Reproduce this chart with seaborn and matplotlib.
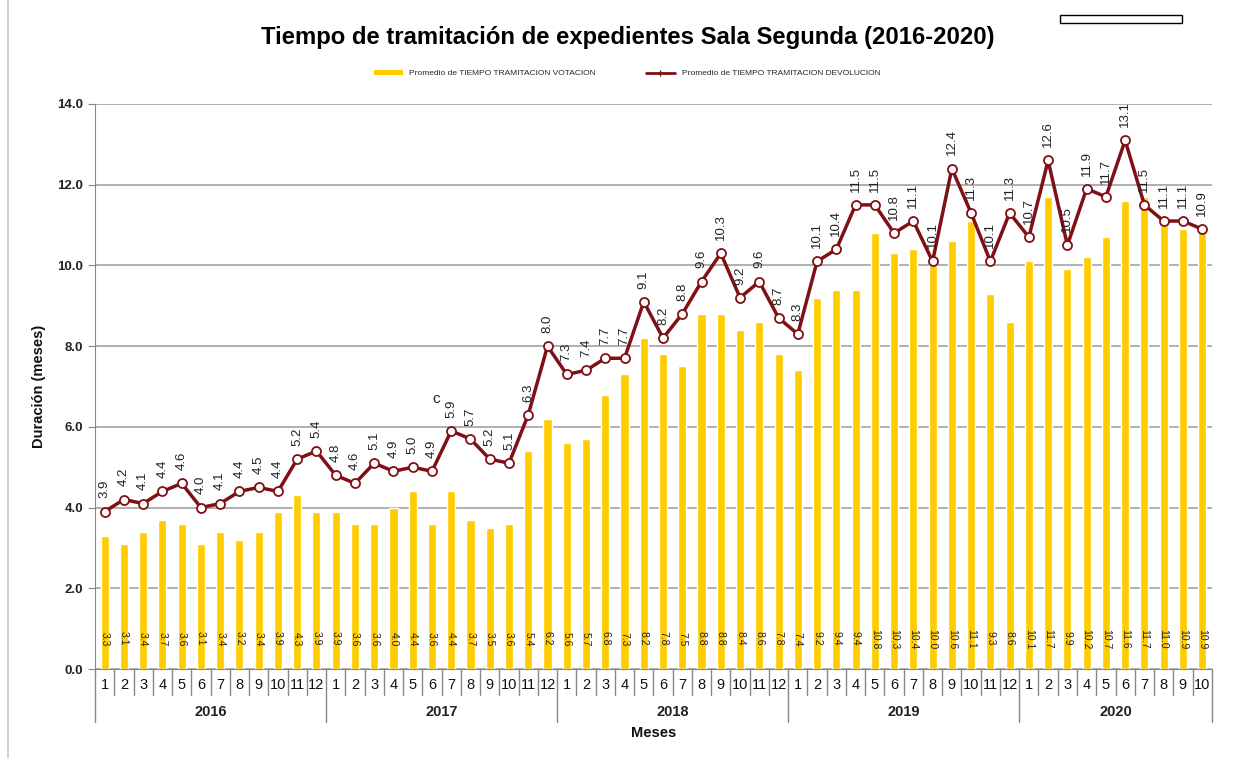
import numpy as np
import pandas as pd
import matplotlib.pyplot as plt
import seaborn as sns
from matplotlib.patches import Rectangle
from matplotlib.lines import Line2D
from matplotlib.patches import Patch

years = ['2016', '2017', '2018', '2019', '2020']
months_per_year = [12, 12, 12, 12, 10]

# Promedio de TIEMPO TRAMITACION VOTACION (barras)
votacion = [3.3, 3.1, 3.4, 3.7, 3.6, 3.1, 3.4, 3.2, 3.4, 3.9, 4.3, 3.9,
            3.9, 3.6, 3.6, 4.0, 4.4, 3.6, 4.4, 3.7, 3.5, 3.6, 5.4, 6.2,
            5.6, 5.7, 6.8, 7.3, 8.2, 7.8, 7.5, 8.8, 8.8, 8.4, 8.6, 7.8,
            7.4, 9.2, 9.4, 9.4, 10.8, 10.3, 10.4, 10.0, 10.6, 11.1, 9.3, 8.6,
            10.1, 11.7, 9.9, 10.2, 10.7, 11.6, 11.7, 11.0, 10.9, 10.9]

# Promedio de TIEMPO TRAMITACION DEVOLUCION (linea)
devolucion = [3.9, 4.2, 4.1, 4.4, 4.6, 4.0, 4.1, 4.4, 4.5, 4.4, 5.2, 5.4,
              4.8, 4.6, 5.1, 4.9, 5.0, 4.9, 5.9, 5.7, 5.2, 5.1, 6.3, 8.0,
              7.3, 7.4, 7.7, 7.7, 9.1, 8.2, 8.8, 9.6, 10.3, 9.2, 9.6, 8.7,
              8.3, 10.1, 10.4, 11.5, 11.5, 10.8, 11.1, 10.1, 12.4, 11.3, 10.1, 11.3,
              10.7, 12.6, 10.5, 11.9, 11.7, 13.1, 11.5, 11.1, 11.1, 10.9]

month_labels = [str(m) for n in months_per_year for m in range(1, n + 1)]
year_of = [y for y, n in zip(years, months_per_year) for _ in range(n)]

df = pd.DataFrame({'pos': np.arange(len(votacion)), 'mes': month_labels,
                   'anio': year_of, 'votacion': votacion, 'devolucion': devolucion})

sns.set_style('white')
plt.rcParams['font.family'] = ['Liberation Sans', 'DejaVu Sans']

bar_color = '#FFCC00'
line_color = '#7F1016'
grid_color = '#9a9a9a'

fig = plt.figure(figsize=(12.34, 7.58), dpi=100)
ax = fig.add_axes([0.077, 0.1174, 0.905, 0.7454])

ax.set_ylim(0, 14)
ax.set_xlim(-0.5, len(df) - 0.5)
ax.set_yticks(np.arange(0, 14.1, 2))
ax.yaxis.grid(True, color=grid_color, linewidth=1.1)
ax.set_axisbelow(True)

sns.barplot(data=df, x='pos', y='votacion', native_scale=True, color=bar_color,
            width=0.42, saturation=1, ax=ax, zorder=2)
sns.lineplot(data=df, x='pos', y='devolucion', color=line_color, linewidth=2.5,
             marker='o', markersize=6.5, markerfacecolor='white',
             markeredgecolor=line_color, markeredgewidth=1.3, ax=ax, zorder=3)

# etiquetas de valores
for i, v in enumerate(votacion):
    ax.text(i, 0.75, f'{v:.1f}', rotation=-90, ha='center', va='center',
            fontsize=7.5, color='#222222', zorder=4)
for i, v in enumerate(devolucion):
    ax.annotate(f'{v:.1f}', (i, v), xytext=(0, 9.5), textcoords='offset points',
                rotation=90, ha='center', va='bottom', fontsize=9.5,
                color='#222222', zorder=4)
ax.text(17.2, 6.7, 'c', ha='center', va='center', fontsize=11, color='#222222')

# ejes
ax.set_xticks([])
ax.set_xlabel('')
ax.set_ylabel('Duración (meses)', fontsize=10.5, fontweight='bold', labelpad=8,
              color='#111111')
ax.yaxis.set_major_formatter(plt.FuncFormatter(lambda v, p: f'{v:.1f}'))
ax.tick_params(axis='y', labelsize=9.5, length=5, color='#888888', left=True,
               labelcolor='#222222')
for lab in ax.get_yticklabels():
    lab.set_fontweight('bold')
for s in ['top', 'right']:
    ax.spines[s].set_visible(False)
ax.spines['left'].set_color('#888888')
ax.spines['bottom'].set_color('#888888')

# eje x jerarquico: meses y años
tr = ax.get_xaxis_transform()
for i, m in enumerate(month_labels):
    ax.text(i, -0.028, m, transform=tr, ha='center', va='center', fontsize=10.5,
            color='#111111')
bounds = np.cumsum([0] + months_per_year) - 0.5
for i in range(len(df) + 1):
    x = i - 0.5
    low = -0.094 if x in bounds else -0.046
    ax.plot([x, x], [0, low], transform=tr, color='#888888', linewidth=1,
            clip_on=False)
for y, a, b in zip(years, bounds[:-1], bounds[1:]):
    ax.text((a + b) / 2, -0.076, y, transform=tr, ha='center', va='center',
            fontsize=10.5, fontweight='bold', color='#222222')
ax.text(0.5, -0.113, 'Meses', transform=ax.transAxes, ha='center', va='center',
        fontsize=10.5, fontweight='bold', color='#111111')

# titulo y leyenda
fig.text(0.509, 0.951, 'Tiempo de tramitación de expedientes Sala Segunda (2016-2020)',
         ha='center', va='center', fontsize=17.2, fontweight='bold', color='black')
handles = [Patch(facecolor=bar_color, edgecolor='none'),
           Line2D([0], [0], color=line_color, linewidth=2, marker='|', markersize=4)]
fig.legend(handles, ['Promedio de TIEMPO TRAMITACION VOTACION',
                     'Promedio de TIEMPO TRAMITACION DEVOLUCION'],
           loc='center', bbox_to_anchor=(0.508, 0.903), ncol=2, frameon=False,
           fontsize=6, handlelength=3.5, handleheight=0.5, columnspacing=6)

fig.patches.append(Rectangle((0.859, 0.9697), 0.099, 0.0106, transform=fig.transFigure,
                             facecolor='white', edgecolor='black', linewidth=1))
fig.add_artist(Line2D([0.0065, 0.0065], [0, 1], transform=fig.transFigure,
                      color='#c8c8c8', linewidth=1.2))

fig.savefig('out.png', dpi=100)
